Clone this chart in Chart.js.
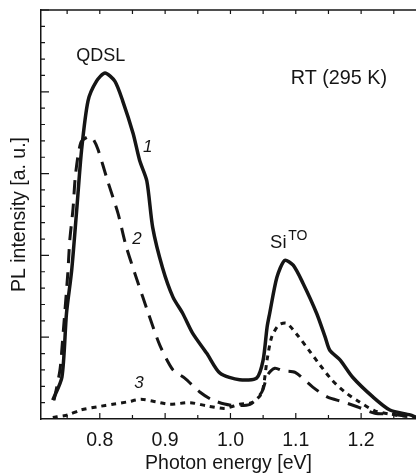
<!DOCTYPE html>
<html lang="en">
<head>
    <meta charset="UTF-8">
    <title>PL spectra</title>
    <script src="https://cdn.jsdelivr.net/npm/chart.js"></script>
    <style>
        html, body { margin: 0; padding: 0; background: #fff; }
        #wrap { width: 416px; height: 475px; }
    </style>
</head>
<body>
    <div id="wrap"><canvas id="plChart" width="416" height="475"></canvas></div>

    <script>
        // photon energy [eV] / PL intensity [a.u.]
        const curve1X = [0.728, 0.742, 0.749, 0.757, 0.765, 0.772, 0.782, 0.795, 0.808, 0.823, 0.835, 0.851, 0.861, 0.872, 0.881, 0.896, 0.912, 0.927, 0.942, 0.964, 0.984, 1.014, 1.040, 1.050, 1.056, 1.060, 1.071, 1.083, 1.096, 1.111, 1.132, 1.145, 1.152, 1.168, 1.187, 1.218, 1.244, 1.275, 1.284];
        const curve1Y = [0.23, 0.51, 1.29, 1.82, 2.59, 3.28, 3.89, 4.13, 4.23, 4.13, 3.89, 3.49, 3.16, 2.91, 2.34, 1.85, 1.49, 1.29, 1.05, 0.80, 0.56, 0.48, 0.50, 0.72, 1.12, 1.29, 1.73, 1.94, 1.88, 1.66, 1.29, 1.00, 0.84, 0.72, 0.51, 0.27, 0.11, 0.05, 0.02];

        const curve2X = [0.730, 0.739, 0.743, 0.751, 0.754, 0.759, 0.763, 0.771, 0.782, 0.789, 0.797, 0.812, 0.828, 0.840, 0.857, 0.874, 0.892, 0.912, 0.930, 0.953, 0.973, 0.999, 1.030, 1.048, 1.057, 1.068, 1.080, 1.099, 1.126, 1.148, 1.172, 1.194, 1.221, 1.244, 1.284];
        const curve2Y = [0.23, 0.60, 0.96, 1.78, 2.18, 2.57, 3.00, 3.38, 3.45, 3.43, 3.30, 2.91, 2.51, 2.12, 1.70, 1.30, 0.90, 0.60, 0.50, 0.33, 0.23, 0.17, 0.18, 0.33, 0.54, 0.62, 0.59, 0.57, 0.39, 0.27, 0.21, 0.15, 0.07, 0.06, 0.02];

        const curve3X = [0.728, 0.751, 0.771, 0.797, 0.820, 0.843, 0.863, 0.886, 0.907, 0.938, 0.964, 0.991, 1.014, 1.033, 1.048, 1.056, 1.063, 1.074, 1.086, 1.103, 1.122, 1.137, 1.155, 1.175, 1.195, 1.221, 1.252, 1.284];
        const curve3Y = [0.02, 0.05, 0.11, 0.15, 0.18, 0.21, 0.24, 0.21, 0.18, 0.20, 0.16, 0.13, 0.18, 0.20, 0.32, 0.72, 1.00, 1.15, 1.17, 1.02, 0.82, 0.66, 0.48, 0.33, 0.22, 0.10, 0.05, 0.02];

        const xTickValues = [0.8, 0.9, 1.0, 1.1, 1.2];

        const sans = '"Liberation Sans", Arial, sans-serif';

        // text labels placed in data coordinates
        const notes = [
            { text: 'QDSL', x: 0.8015, y: 4.44, font: '18px ' + sans },
            { text: 'RT (295 K)', x: 1.166, y: 4.16, font: '19.8px ' + sans },
            { text: '1', x: 0.8735, y: 3.32, font: 'italic 17px ' + sans },
            { text: '2', x: 0.857, y: 2.20, font: 'italic 17px ' + sans },
            { text: '3', x: 0.860, y: 0.44, font: 'italic 17px ' + sans },
            { text: 'Si', x: 1.0733, y: 2.15, font: '18.5px ' + sans },
            { text: 'TO', x: 1.103, y: 2.24, font: '14px ' + sans }
        ];

        function zip(xs, ys) {
            return xs.map((x, i) => ({ x: x, y: ys[i] }));
        }

        const ink = '#151515';

        // frame + inward ticks + text labels
        const framePlugin = {
            id: 'frame',
            afterDraw(chart) {
                const ctx = chart.ctx;
                const area = chart.chartArea;
                const xs = chart.scales.x;
                const ys = chart.scales.y;
                ctx.save();
                ctx.strokeStyle = ink;
                ctx.lineWidth = 1.5;
                ctx.beginPath();
                ctx.moveTo(area.left, area.top);
                ctx.lineTo(area.right, area.top);
                ctx.stroke();

                ctx.lineWidth = 1.2;
                ctx.beginPath();
                for (let i = 15; i <= 25; i++) {
                    const v = i * 0.05;
                    const px = xs.getPixelForValue(v);
                    if (px < area.left || px > area.right) continue;
                    const len = (i % 2 === 0) ? 6 : 4;
                    ctx.moveTo(px, area.bottom);
                    ctx.lineTo(px, area.bottom - len);
                    ctx.moveTo(px, area.top);
                    ctx.lineTo(px, area.top + 4);
                }
                for (let i = 1; i <= 25; i++) {
                    const v = i * 0.2;
                    const py = ys.getPixelForValue(v);
                    const len = (i % 5 === 0) ? 8 : 4;
                    ctx.moveTo(area.left, py);
                    ctx.lineTo(area.left + len, py);
                }
                ctx.stroke();

                ctx.fillStyle = ink;
                ctx.textAlign = 'center';
                ctx.textBaseline = 'middle';
                notes.forEach(n => {
                    ctx.font = n.font;
                    ctx.fillText(n.text, xs.getPixelForValue(n.x), ys.getPixelForValue(n.y));
                });
                ctx.restore();
            }
        };

        const ctx = document.getElementById('plChart').getContext('2d');
        const chart = new Chart(ctx, {
            type: 'line',
            data: {
                datasets: [
                    {
                        label: '1',
                        data: zip(curve1X, curve1Y),
                        borderColor: ink,
                        borderWidth: 3.5,
                        pointRadius: 0,
                        tension: 0.25,
                        fill: false
                    },
                    {
                        label: '2',
                        data: zip(curve2X, curve2Y),
                        borderColor: ink,
                        borderWidth: 3,
                        borderDash: [14, 9],
                        pointRadius: 0,
                        tension: 0.25,
                        fill: false
                    },
                    {
                        label: '3',
                        data: zip(curve3X, curve3Y),
                        borderColor: ink,
                        borderWidth: 3,
                        borderDash: [5, 5],
                        pointRadius: 0,
                        tension: 0.25,
                        fill: false
                    }
                ]
            },
            options: {
                responsive: false,
                animation: false,
                layout: { padding: { top: 10, right: 0, left: 0, bottom: 0 } },
                plugins: {
                    legend: { display: false },
                    tooltip: { enabled: false }
                },
                scales: {
                    x: {
                        type: 'linear',
                        min: 0.71,
                        max: 1.284,
                        afterFit: s => { s.height = 56; },
                        afterBuildTicks: s => { s.ticks = xTickValues.map(v => ({ value: v })); },
                        grid: { display: false, drawTicks: false },
                        border: { display: true, color: ink, width: 1.5 },
                        ticks: {
                            color: ink,
                            padding: 10,
                            font: { family: sans, size: 19.5 },
                            callback: v => v.toFixed(1)
                        },
                        title: {
                            display: true,
                            text: 'Photon energy [eV]',
                            color: ink,
                            font: { family: sans, size: 19.5 },
                            padding: { top: 2, bottom: 0 }
                        }
                    },
                    y: {
                        min: 0,
                        max: 5,
                        afterFit: s => { s.width = 41; },
                        grid: { display: false, drawTicks: false },
                        border: { display: true, color: ink, width: 1.5 },
                        ticks: { display: false },
                        title: {
                            display: true,
                            text: 'PL intensity [a. u.]',
                            color: ink,
                            font: { family: sans, size: 19.5 },
                            padding: { top: 8, bottom: 0 }
                        }
                    }
                }
            },
            plugins: [framePlugin]
        });
    </script>
</body>
</html>
